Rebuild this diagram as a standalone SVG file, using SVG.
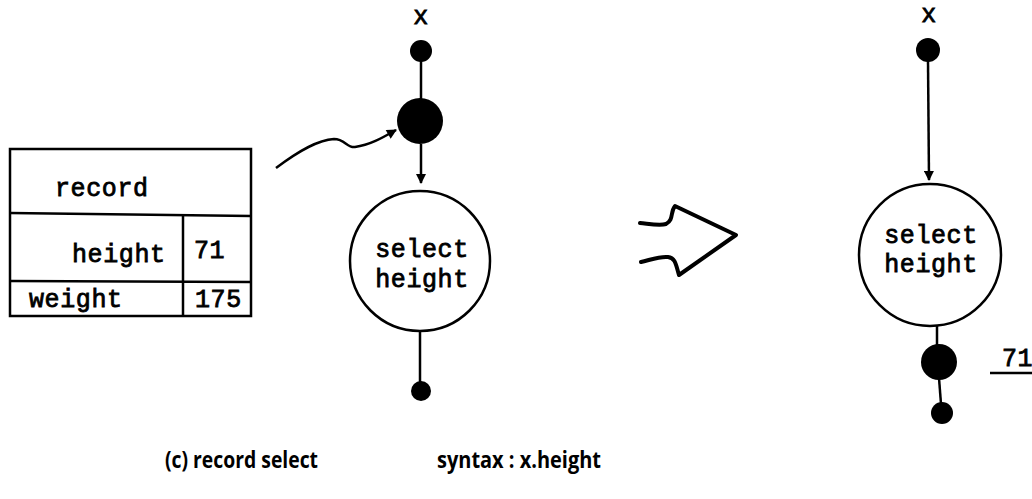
<svg xmlns="http://www.w3.org/2000/svg" width="1032" height="499" viewBox="0 0 1032 499">
<defs>
<style>
.ln{stroke:#000;stroke-width:2.5;fill:none}
.mono{font-family:"Liberation Mono","DejaVu Sans Mono",monospace;font-size:25px;letter-spacing:0.6px;fill:#000;stroke:#000;stroke-width:0.8}
.cap{font-family:"Open Sans","Liberation Sans",sans-serif;font-size:23px;font-weight:bold;fill:#000}
.dot{fill:#000}
.node{fill:#fff;stroke:#000;stroke-width:2.5}
</style>
<marker id="ah2" viewBox="0 0 10 10" refX="9" refY="5" markerWidth="12" markerHeight="10" orient="auto" markerUnits="userSpaceOnUse">
<path d="M0,0 L10,5 L0,10 Z" fill="#000"/>
</marker>
</defs>

<g id="record-table">
<rect x="10" y="149" width="241" height="167" class="ln"/>
<path d="M10,213 L251,216" class="ln"/>
<path d="M10,281 L251,282" class="ln"/>
<path d="M183,216 L183,316" class="ln"/>
<text x="55" y="196" class="mono">record</text>
<text x="72" y="262" class="mono">height</text>
<text x="194" y="258" class="mono">71</text>
<text x="29" y="307" class="mono">weight</text>
<text x="195" y="307" class="mono">175</text>
</g>

<g id="left-input">
<text x="421" y="24" class="mono" text-anchor="middle">x</text>
<circle cx="421" cy="51" r="11" class="dot"/>
</g>

<g id="left-token">
<circle cx="420" cy="121" r="23" class="dot"/>
</g>

<g id="left-select">
<circle cx="420" cy="261" r="70" class="node"/>
<text x="422" y="257" class="mono" text-anchor="middle">select</text>
<text x="422" y="287" class="mono" text-anchor="middle">height</text>
</g>

<g id="left-output">
<circle cx="421" cy="391" r="10" class="dot"/>
</g>

<g id="transform-arrow">
<path d="M640,223 C650,224 660,226 666,224 C674,220 670,212 675,206 L736,235 L679,275 C676,266 676,258 668,257 C660,256 650,260 641,262" fill="none" stroke="#000" stroke-width="4" stroke-linejoin="round" stroke-linecap="round"/>
</g>

<g id="right-input">
<text x="929" y="22" class="mono" text-anchor="middle">x</text>
<circle cx="928" cy="50" r="12" class="dot"/>
</g>

<g id="right-select">
<circle cx="930" cy="255" r="71" class="node"/>
<text x="931" y="243" class="mono" text-anchor="middle">select</text>
<text x="931" y="272" class="mono" text-anchor="middle">height</text>
</g>

<g id="right-token">
<circle cx="939" cy="362" r="18" class="dot"/>
<text x="1002" y="366" class="mono">71</text>
<path d="M990,373 L1032,373" class="ln"/>
</g>

<g id="right-output">
<circle cx="942" cy="413" r="11" class="dot"/>
</g>

<g id="connectors">
<path d="M421,60 L421,100" class="ln"/>
<path d="M421,144 L421,183" class="ln" marker-end="url(#ah2)"/>
<path d="M420,331 L420,385" class="ln"/>
<path d="M276,168 C300,150 318,140 334,139 C345,139 347,148 355,147 C370,145 382,138 396,130" class="ln" stroke-width="3" marker-end="url(#ah2)"/>
<path d="M928,61 L929,180" class="ln" marker-end="url(#ah2)"/>
<path d="M937,326 L937,346" class="ln"/>
<path d="M939,378 L941,404" class="ln"/>
</g>

<g id="captions">
<text x="165" y="468" class="cap" textLength="153" lengthAdjust="spacingAndGlyphs">(c) record select</text>
<text x="437" y="468" class="cap" textLength="164" lengthAdjust="spacingAndGlyphs">syntax : x.height</text>
</g>
</svg>
